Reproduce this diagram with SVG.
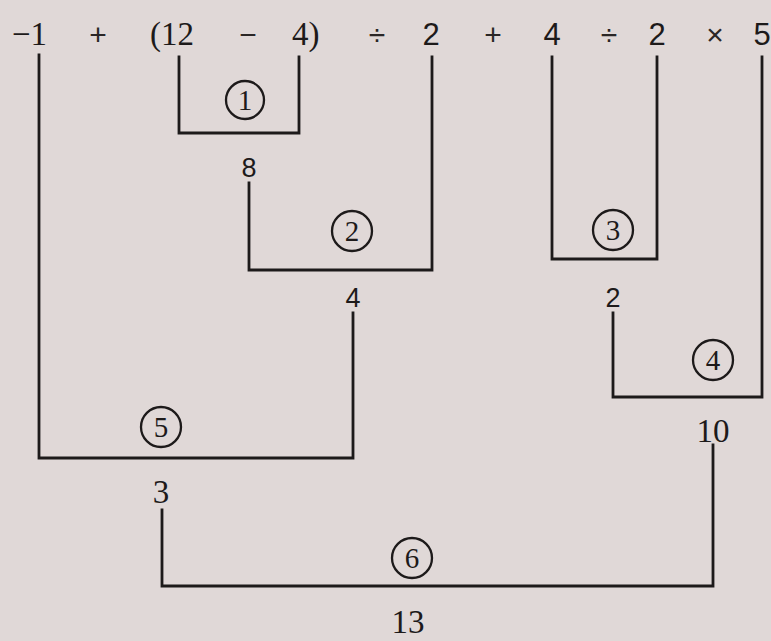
<svg xmlns="http://www.w3.org/2000/svg" width="771" height="641" viewBox="0 0 771 641">
<style>
.bg{fill:#e0d8d7}
.ln{fill:none;stroke:#1d1a1a;stroke-width:2.8;stroke-linejoin:miter;stroke-linecap:square}
.sf{font-family:"Liberation Serif","Times New Roman",serif;font-size:33px;fill:#1d1a1a}
.ss{font-family:"Liberation Sans",Arial,sans-serif;font-size:31px;fill:#1d1a1a}
.sm{font-family:"Liberation Sans",Arial,sans-serif;font-size:27px;fill:#1d1a1a}
.op{font-family:"Liberation Sans",Arial,sans-serif;font-size:30px;fill:#2a2626}
.c{fill:none;stroke:#1d1a1a;stroke-width:2.3}
.cn{font-family:"Liberation Serif","Times New Roman",serif;font-size:29px;fill:#1d1a1a;text-anchor:middle}
.m{text-anchor:middle}
</style>
<rect class="bg" x="0" y="0" width="771" height="641"/>
<g id="expression">
<text class="sf" x="12" y="45">−1</text>
<text class="op m" x="98" y="45">+</text>
<text class="sf" x="150" y="45">(12</text>
<text class="op m" x="248" y="45">−</text>
<text class="sf" x="292" y="45">4)</text>
<text class="op m" x="377" y="45">÷</text>
<text class="ss m" x="431" y="45">2</text>
<text class="op m" x="493" y="45">+</text>
<text class="ss m" x="552" y="45">4</text>
<text class="op m" x="609" y="45">÷</text>
<text class="ss m" x="657" y="45">2</text>
<text class="op m" x="715" y="45">×</text>
<text class="ss m" x="762" y="45">5</text>
</g>
<g id="connectors">
<path class="ln" d="M179,57 V133 H299 V57"/>
<path class="ln" d="M249,183 V270 H432 V57"/>
<path class="ln" d="M552,57 V259 H657 V57"/>
<path class="ln" d="M613,313 V397 H762 V57"/>
<path class="ln" d="M39,55 V458 H353 V313"/>
<path class="ln" d="M162,510 V586 H713 V445"/>
</g>
<g id="step1"><circle class="c" cx="245" cy="100" r="19"/><text class="cn" x="245" y="110">1</text></g>
<g id="result8"><text class="sm m" x="249" y="177">8</text></g>
<g id="step2"><circle class="c" cx="352" cy="231" r="20"/><text class="cn" x="352" y="241">2</text></g>
<g id="result4"><text class="sm m" x="353" y="307">4</text></g>
<g id="step3"><circle class="c" cx="613" cy="230" r="20"/><text class="cn" x="613" y="240">3</text></g>
<g id="result2"><text class="sm m" x="613" y="307">2</text></g>
<g id="step4"><circle class="c" cx="713" cy="360" r="20"/><text class="cn" x="713" y="370">4</text></g>
<g id="result10"><text class="sf m" x="713" y="442">10</text></g>
<g id="step5"><circle class="c" cx="161" cy="427" r="20"/><text class="cn" x="161" y="437">5</text></g>
<g id="result3"><text class="sf m" x="161" y="503">3</text></g>
<g id="step6"><circle class="c" cx="412" cy="558" r="20"/><text class="cn" x="412" y="568">6</text></g>
<g id="result13"><text class="sf m" x="408" y="633">13</text></g>
</svg>
